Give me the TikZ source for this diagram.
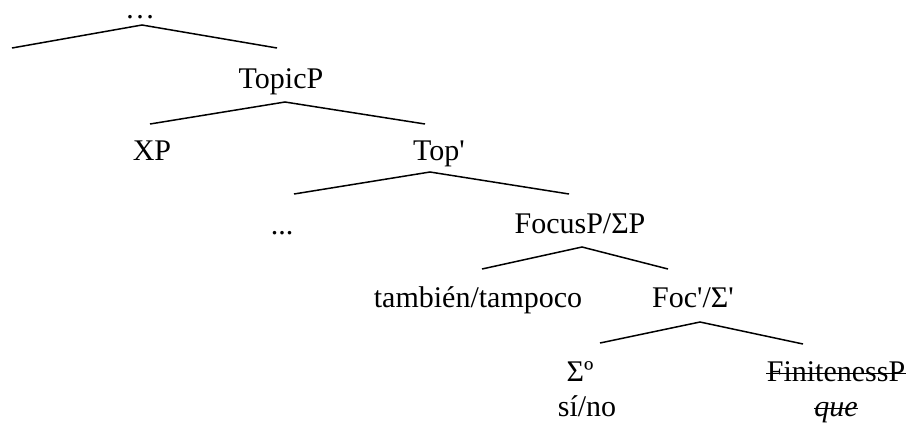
\documentclass[tikz,border=0pt]{standalone}
\usepackage{fontspec}
\setmainfont{Liberation Serif}
\newcommand{\pr}{\textquotesingle}
\begin{document}
\begin{tikzpicture}[x=0.5pt, y=-0.5pt,
    lbl/.style={anchor=base, inner sep=0pt, font=\fontsize{15}{18}\selectfont},
    branch/.style={line width=0.75pt},
    strike/.style={line width=0.5pt}]
    \useasboundingbox (0, 0) rectangle (913, 424);
    \node[lbl] (dots) at (140, 18) {…};
    \coordinate (a0) at (142, 25);
    \coordinate (a0l) at (12, 48);
    \coordinate (a0r) at (277, 48);
    \draw[branch] (a0l) -- (a0) -- (a0r);
    \node[lbl] (topicp) at (281, 88) {TopicP};
    \coordinate (a1) at (285, 102);
    \coordinate (a1l) at (150, 124);
    \coordinate (a1r) at (425, 124);
    \draw[branch] (a1l) -- (a1) -- (a1r);
    \node[lbl] (xp) at (152, 160) {XP};
    \node[lbl] (topbar) at (439, 160) {Top\pr};
    \coordinate (a2) at (430, 172);
    \coordinate (a2l) at (294, 194);
    \coordinate (a2r) at (569, 194);
    \draw[branch] (a2l) -- (a2) -- (a2r);
    \node[lbl] (etc) at (282, 234) {...};
    \node[lbl] (focusp) at (580, 233) {FocusP/ΣP};
    \coordinate (a3) at (582, 247);
    \coordinate (a3l) at (482, 269);
    \coordinate (a3r) at (668, 269);
    \draw[branch] (a3l) -- (a3) -- (a3r);
    \node[lbl] (tambien) at (478, 307) {también/tampoco};
    \node[lbl] (focbar) at (693, 307) {Foc\pr/Σ\pr};
    \coordinate (a4) at (700, 322);
    \coordinate (a4l) at (600, 343);
    \coordinate (a4r) at (803, 344);
    \draw[branch] (a4l) -- (a4) -- (a4r);
    \node[lbl] (sigma) at (580, 381) {Σº};
    \node[lbl] (sino) at (587, 416) {sí/no};
    \node[lbl] (finp) at (836, 381) {FinitenessP};
    \node[lbl] (que) at (836, 416) {\textit{que}};
    \draw[strike] ([yshift=3.6pt]finp.base west) -- ([yshift=3.6pt]finp.base east);
    \draw[strike] ([yshift=3.6pt]que.base west) -- ([yshift=3.6pt]que.base east);
\end{tikzpicture}
\end{document}
